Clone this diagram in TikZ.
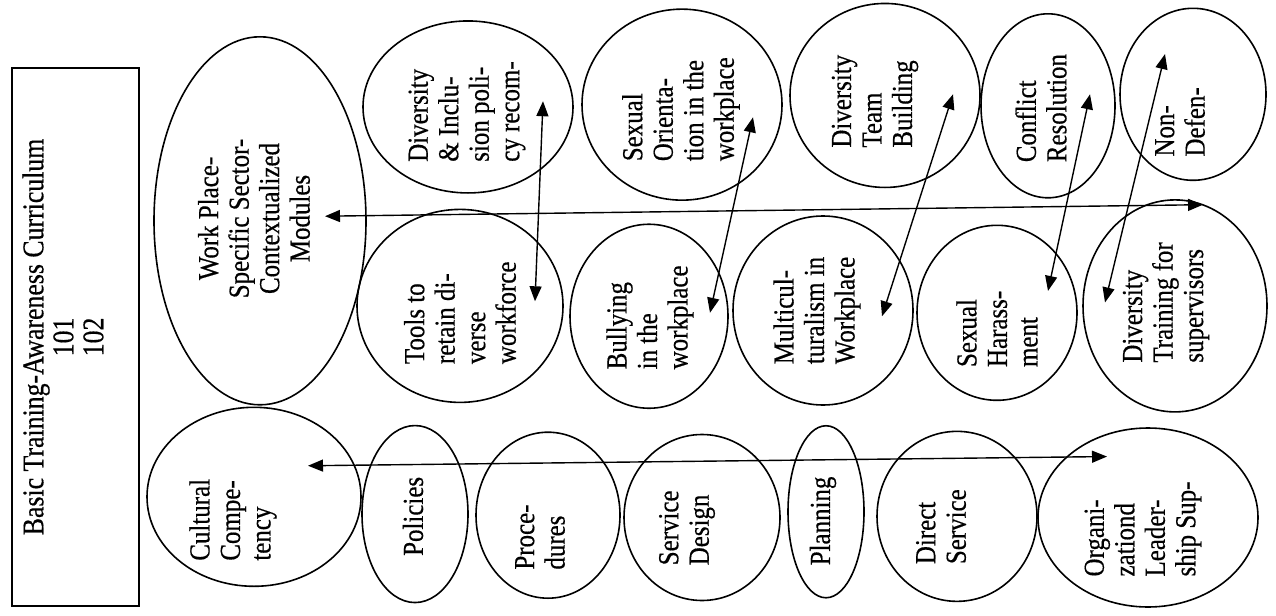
\documentclass[tikz,border=0pt]{standalone}
\usepackage{fontspec}
\setmainfont{Liberation Serif}[FakeStretch=0.86,FakeBold=0.5]
\usetikzlibrary{shapes.geometric,arrows.meta,calc}
\begin{document}
\begin{tikzpicture}[x=1pt,y=-1.15pt,
  oval/.style={draw, ellipse, line width=1.6pt, inner sep=0pt},
  lbl/.style={rotate=90, align=left, inner sep=0pt, font=\fontsize{29}{30.5}\selectfont},
  clbl/.style={lbl, align=center},
  link/.style={{Triangle[length=15pt,width=12pt]}-{Triangle[length=15pt,width=12pt]}, line width=1.4pt}]
\useasboundingbox (0,0) rectangle (1276,534.8);
% title box
\node[draw, line width=1.8pt, minimum width=127pt, minimum height=538pt, inner sep=0pt] (box) at (75.5,293) {};
\node[clbl, font=\fontsize{30}{30}\selectfont] (title) at (63,293) {Basic Training-Awareness Curriculum\\101\\102};
% ellipses
\node[oval, minimum width=212pt, minimum height=368pt] (wp)  at (260,192) {};
\node[oval, minimum width=214pt, minimum height=179pt] (cc)  at (254,432) {};
\node[oval, minimum width=210pt, minimum height=172pt] (di)  at (468,93)  {};
\node[oval, minimum width=206pt, minimum height=193pt] (tr)  at (460,266) {};
\node[oval, minimum width=158pt, minimum height=184pt] (bu)  at (649,275) {};
\node[oval, minimum width=200pt, minimum height=191pt] (so)  at (682,91)  {};
\node[oval, minimum width=180pt, minimum height=189pt] (mc)  at (823,270) {};
\node[oval, minimum width=106pt, minimum height=177pt] (po)  at (415,447) {};
\node[oval, minimum width=144pt, minimum height=166pt] (pr)  at (548,448) {};
\node[oval, minimum width=156pt, minimum height=166pt] (sd)  at (702,450) {};
\node[oval, minimum width=76pt,  minimum height=172pt] (pl)  at (826,445) {};
\node[oval, minimum width=190pt, minimum height=184pt] (dt)  at (885,83)  {};
\node[oval, minimum width=134pt, minimum height=184pt] (cr)  at (1048,92) {};
\node[oval, minimum width=146pt, minimum height=172pt] (nd)  at (1193,82) {};
\node[oval, minimum width=160pt, minimum height=175pt] (sh)  at (997,272) {};
\node[oval, minimum width=184pt, minimum height=212pt] (ds)  at (1175,266) {};
\node[oval, minimum width=160pt, minimum height=170pt] (dsv) at (957,449) {};
\node[oval, minimum width=220pt, minimum height=179pt] (ol)  at (1148,450) {};
% labels
\node[clbl] (wpt)  at (254,190) {Work Place-\\Specific Sector-\\Contextualized\\Modules};
\node[lbl]  (cct)  at (233,452) {Cultural\\Compe-\\tency};
\node[lbl]  (dit)  at (467,97)  {Diversity\\\& Inclu-\\sion poli-\\cy recom-};
\node[lbl]  (trt)  at (460,272) {Tools to\\retain di-\\verse\\workforce};
\node[lbl]  (but)  at (650,276) {Bullying\\in the\\workplace};
\node[lbl]  (sot)  at (681,95)  {Sexual\\Orienta-\\tion in the\\workplace};
\node[lbl]  (mct)  at (817,270) {Multicul-\\turalism in\\Workplace};
\node[lbl]  (pot)  at (413,449) {Policies};
\node[lbl]  (prt)  at (540,467) {Proce-\\dures};
\node[lbl]  (sdt)  at (687,459) {Service\\Design};
\node[lbl]  (plt)  at (823,453) {Planning};
\node[lbl]  (dtt)  at (875,88)  {Diversity\\Team\\Building};
\node[lbl]  (crt)  at (1041,94) {Conflict\\Resolution};
\node[lbl]  (ndt)  at (1180,106) {Non-\\Defen-};
\node[lbl]  (sht)  at (997,286) {Sexual\\Harass-\\ment};
\node[lbl]  (dst)  at (1166,263) {Diversity\\Training for\\supervisors};
\node[lbl]  (dsvt) at (941,458) {Direct\\Service};
\node[lbl]  (olt)  at (1143,460) {Organi-\\zationd\\Leader-\\ship Sup-};
% arrow end points
\coordinate (a1s) at ($(cc)+(54,-27)$);
\coordinate (a1e) at ($(ol)+(-41,-53)$);
\coordinate (a2s) at ($(wp)+(65,-4)$);
\coordinate (a2e) at ($(ds)+(28,-88)$);
\coordinate (a3s) at ($(tr)+(75,-4)$);
\coordinate (a3e) at ($(di)+(75,-5)$);
\coordinate (a4s) at ($(bu)+(61,-3)$);
\coordinate (a4e) at ($(so)+(71,11)$);
\coordinate (a5s) at ($(mc)+(59,5)$);
\coordinate (a5e) at ($(dt)+(68,-1)$);
\coordinate (a6s) at ($(sh)+(51,-19)$);
\coordinate (a6e) at ($(cr)+(42,-10)$);
\coordinate (a7s) at ($(ds)+(-70,-3)$);
\coordinate (a7e) at ($(nd)+(-28,-35)$);
\draw[link] (a1s) -- (a1e);
\draw[link] (a2s) -- (a2e);
\draw[link] (a3s) -- (a3e);
\draw[link] (a4s) -- (a4e);
\draw[link] (a5s) -- (a5e);
\draw[link] (a6s) -- (a6e);
\draw[link] (a7s) -- (a7e);
\end{tikzpicture}
\end{document}
